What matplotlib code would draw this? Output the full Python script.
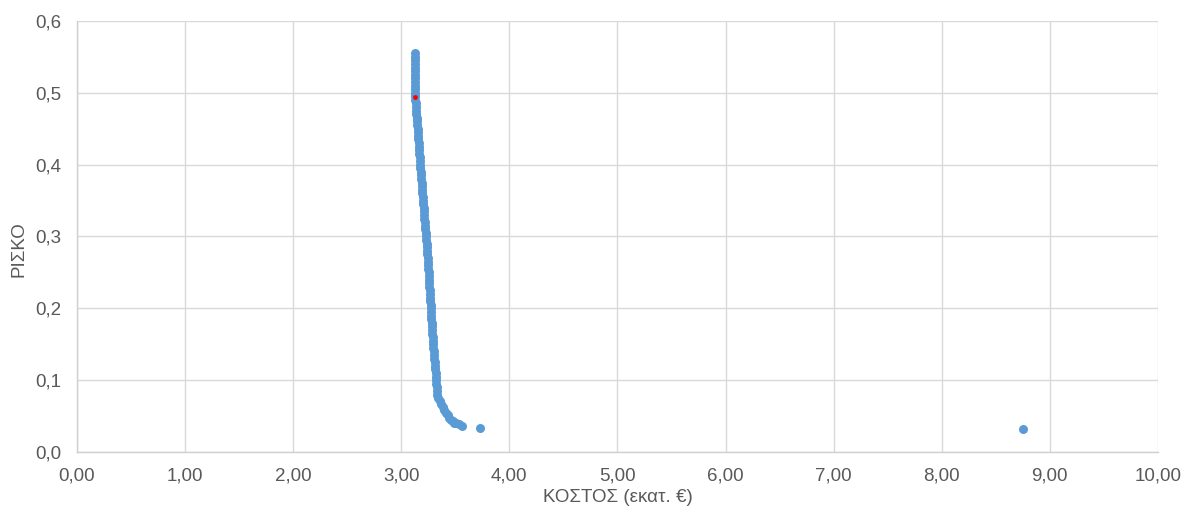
import matplotlib
matplotlib.use("Agg")
from matplotlib import pyplot as plt
from matplotlib.ticker import FuncFormatter, MultipleLocator

# cost (million €) / risk pairs
risk = [0.555, 0.550, 0.545, 0.540, 0.535, 0.530, 0.525, 0.520, 0.515, 0.510,
        0.505, 0.500, 0.495, 0.490, 0.485, 0.480, 0.475, 0.470, 0.465, 0.460,
        0.455, 0.450, 0.445, 0.440, 0.435, 0.430, 0.425, 0.420, 0.415, 0.410,
        0.405, 0.400, 0.395, 0.390, 0.385, 0.380, 0.375, 0.370, 0.365, 0.360,
        0.355, 0.350, 0.345, 0.340, 0.335, 0.330, 0.325, 0.320, 0.315, 0.310,
        0.305, 0.300, 0.295, 0.290, 0.285, 0.280, 0.275, 0.270, 0.265, 0.260,
        0.255, 0.250, 0.245, 0.240, 0.235, 0.230, 0.225, 0.220, 0.215, 0.210,
        0.205, 0.200, 0.195, 0.190, 0.185, 0.180, 0.175, 0.170, 0.165, 0.160,
        0.155, 0.150, 0.145, 0.140, 0.135, 0.130, 0.125, 0.120, 0.115, 0.110,
        0.105, 0.100, 0.095, 0.090, 0.085, 0.080, 0.075, 0.071, 0.067, 0.063,
        0.059, 0.055, 0.051, 0.048, 0.045, 0.043, 0.041, 0.040, 0.039, 0.037,
        0.034, 0.032]
cost = [3.125, 3.125, 3.126, 3.126, 3.127, 3.127, 3.127, 3.128, 3.128, 3.128,
        3.129, 3.129, 3.130, 3.131, 3.133, 3.136, 3.138, 3.141, 3.143, 3.146,
        3.148, 3.151, 3.153, 3.156, 3.158, 3.161, 3.163, 3.166, 3.168, 3.171,
        3.173, 3.176, 3.178, 3.181, 3.183, 3.186, 3.188, 3.191, 3.193, 3.196,
        3.198, 3.201, 3.204, 3.207, 3.209, 3.212, 3.215, 3.218, 3.220, 3.223,
        3.226, 3.229, 3.231, 3.234, 3.237, 3.240, 3.242, 3.245, 3.247, 3.249,
        3.251, 3.253, 3.255, 3.257, 3.259, 3.261, 3.263, 3.265, 3.267, 3.269,
        3.271, 3.273, 3.275, 3.277, 3.279, 3.281, 3.283, 3.285, 3.287, 3.290,
        3.293, 3.295, 3.298, 3.301, 3.303, 3.306, 3.309, 3.311, 3.314, 3.317,
        3.319, 3.322, 3.325, 3.328, 3.331, 3.335, 3.342, 3.355, 3.370, 3.385,
        3.400, 3.415, 3.430, 3.445, 3.460, 3.475, 3.490, 3.510, 3.530, 3.560,
        3.725, 8.750]

# highlighted (chosen) solution
best_cost = [3.13]
best_risk = [0.494]

plt.rcParams['font.family'] = ['Liberation Sans', 'DejaVu Sans']

fig = plt.figure(figsize=(11.84, 5.08), dpi=100)
ax = fig.add_axes([0.065, 0.110, 0.913, 0.849])

ax.scatter(cost, risk, s=42, color='#5B9BD5', linewidths=0, zorder=3)
ax.scatter(best_cost, best_risk, s=12, color='#FF0000', linewidths=0, zorder=4)

ax.set_xlim(0, 10)
ax.set_ylim(0, 0.6)
ax.xaxis.set_major_locator(MultipleLocator(1))
ax.yaxis.set_major_locator(MultipleLocator(0.1))
ax.xaxis.set_major_formatter(FuncFormatter(lambda v, p: f"{v:.2f}".replace('.', ',')))
ax.yaxis.set_major_formatter(FuncFormatter(lambda v, p: f"{v:.1f}".replace('.', ',')))

ax.grid(True, color='#D9D9D9', linewidth=1.0, zorder=0)
ax.set_axisbelow(True)
for side in ['top', 'right']:
    ax.spines[side].set_visible(False)
for side in ['left', 'bottom']:
    ax.spines[side].set_color('#D0D0D0')
    ax.spines[side].set_linewidth(1.0)

ax.tick_params(axis='both', length=0, labelsize=13.5, labelcolor='#595959')
ax.tick_params(axis='y', pad=11)
ax.tick_params(axis='x', pad=11)

ax.set_xlabel('ΚΟΣΤΟΣ (εκατ. €)', fontsize=13.5, color='#595959')
ax.set_ylabel('ΡΙΣΚΟ', fontsize=13.5, color='#595959')
ax.xaxis.set_label_coords(0.5, -0.085)
ax.yaxis.set_label_coords(-0.046, 0.47)

fig.savefig('out.png', dpi=100)
